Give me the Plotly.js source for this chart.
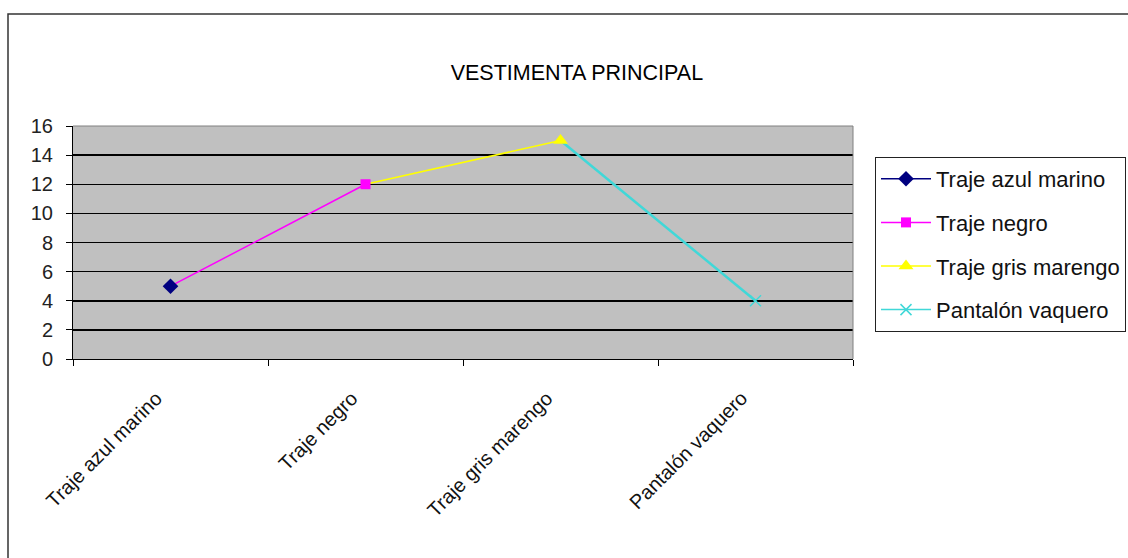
<!DOCTYPE html>
<html>
<head>
<meta charset="utf-8">
<script src="https://cdn.plot.ly/plotly-3.0.1.min.js"></script>
<style>
  html, body { margin: 0; padding: 0; background: #fff; }
  #chart { width: 1128px; height: 558px; }
</style>
</head>
<body>
<div id="chart"></div>
<script>
// Garment categories and how many times each was chosen
const categories = ['Traje azul marino', 'Traje negro', 'Traje gris marengo', 'Pantalón vaquero'];
const values = [5, 12, 15, 4];

// Per-series look: colour and marker
const seriesStyle = [
  { color: '#000080', symbol: 'diamond', size: 12 },
  { color: '#FF00FF', symbol: 'square', size: 10 },
  { color: '#FFFF00', symbol: 'triangle-up', size: 13 },
  { color: '#40D8D8', symbol: 'x-thin', size: 11 }
];

const FONT = 'Liberation Sans, Arial, sans-serif';
const traces = [];

// Connecting segments: each one takes the colour of the point it leads into
for (let i = 1; i < categories.length; i++) {
  traces.push({
    x: [categories[i - 1], categories[i]],
    y: [values[i - 1], values[i]],
    type: 'scatter',
    mode: 'lines',
    line: { color: seriesStyle[i].color, width: i === 3 ? 2.5 : 1.5 },
    legendgroup: 'g' + i,
    showlegend: false,
    hoverinfo: 'skip'
  });
}

// One marker per series, also providing the legend entry
categories.forEach((cat, i) => {
  const s = seriesStyle[i];
  traces.push({
    x: [cat],
    y: [values[i]],
    type: 'scatter',
    mode: 'lines+markers',
    name: cat,
    legendgroup: 'g' + i,
    line: { color: s.color, width: 1.5 },
    marker: {
      color: s.color,
      symbol: s.symbol,
      size: s.size,
      line: { color: s.color, width: s.symbol === 'x-thin' ? 1.5 : 0 }
    }
  });
});

// Slanted category labels under the axis
const categoryLabels = categories.map(cat => ({
  text: cat,
  x: cat,
  y: 0,
  xref: 'x',
  yref: 'y',
  showarrow: false,
  textangle: -45,
  xanchor: 'right',
  yanchor: 'top',
  xshift: -1,
  yshift: -25,
  font: { family: FONT, size: 20, color: '#111' }
}));

const layout = {
  width: 1128,
  height: 558,
  margin: { l: 73, r: 275, t: 126, b: 199, autoexpand: false },
  paper_bgcolor: '#FFFFFF',
  plot_bgcolor: '#C0C0C0',
  font: { family: FONT, color: '#111' },
  showlegend: true,
  hovermode: false,
  title: {
    text: 'VESTIMENTA PRINCIPAL',
    font: { family: FONT, size: 21.5, color: '#000' },
    xref: 'paper',
    x: 0.646,
    xanchor: 'center',
    yref: 'container',
    y: 1 - 72 / 558,
    yanchor: 'middle'
  },
  xaxis: {
    type: 'category',
    categoryorder: 'array',
    categoryarray: categories,
    range: [-0.5, categories.length - 0.5],
    showgrid: false,
    zeroline: false,
    showline: true,
    linecolor: '#000',
    linewidth: 1,
    ticks: 'outside',
    tickson: 'boundaries',
    ticklen: 6,
    tickcolor: '#000',
    showticklabels: false,
    automargin: false
  },
  yaxis: {
    range: [0, 16],
    dtick: 2,
    tick0: 0,
    showgrid: true,
    gridcolor: '#000',
    gridwidth: 1.5,
    zeroline: false,
    showline: true,
    linecolor: '#000',
    linewidth: 1,
    ticks: 'outside',
    ticklen: 6,
    tickcolor: '#000',
    ticklabelstandoff: 9,
    automargin: false,
    tickfont: { family: FONT, size: 20, color: '#222' }
  },
  legend: {
    x: (875 - 73) / 780,
    xanchor: 'left',
    y: (359 - 157) / 233,
    yanchor: 'top',
    bgcolor: '#FFFFFF',
    bordercolor: '#222',
    borderwidth: 1,
    itemwidth: 50,
    tracegroupgap: 12,
    font: { family: FONT, size: 22, color: '#111' }
  },
  annotations: categoryLabels,
  shapes: [
    // top and right edges of the plot area
    { type: 'line', xref: 'paper', yref: 'paper', x0: 0, x1: 1, y0: 1, y1: 1,
      line: { color: '#808080', width: 1 } },
    { type: 'line', xref: 'paper', yref: 'paper', x0: 1, x1: 1, y0: 0, y1: 1,
      line: { color: '#808080', width: 1 } },
    // outer chart frame
    { type: 'rect', xref: 'paper', yref: 'paper',
      x0: (8 - 73) / 780, x1: (1140 - 73) / 780,
      y0: (359 - 570) / 233, y1: (359 - 14) / 233,
      line: { color: '#333', width: 1.5 }, fillcolor: 'rgba(0,0,0,0)' }
  ]
};

Plotly.newPlot('chart', traces, layout, { displayModeBar: false, staticPlot: true });
</script>
</body>
</html>
